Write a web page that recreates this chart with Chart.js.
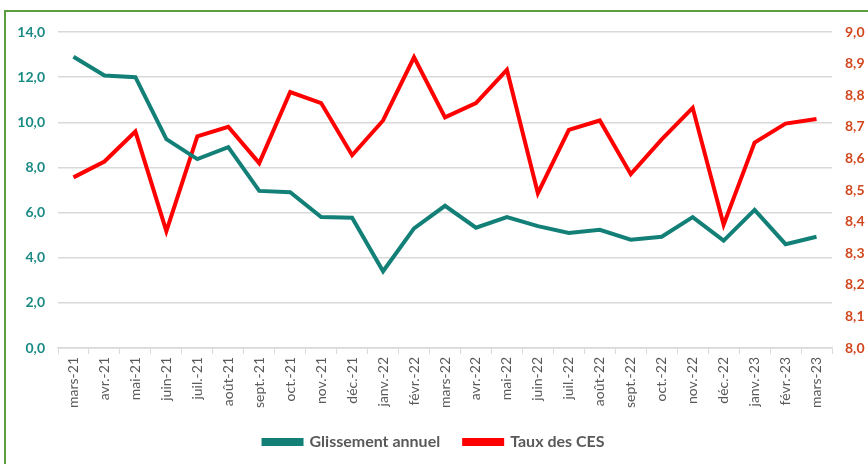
<!DOCTYPE html>
<html lang="fr">
<head>
<meta charset="utf-8">
<title>Glissement annuel et taux des CES</title>
<script src="https://cdn.jsdelivr.net/npm/chart.js@4.4.1/dist/chart.umd.min.js"></script>
<style>
  html, body { margin: 0; padding: 0; background: #fff; overflow: hidden; }
  .wrap { position: relative; width: 868px; height: 464px; }
  .cadre {
    position: absolute; left: 4px; top: 10px; width: 900px; height: 500px;
    border-left: 2px solid #5a9e3e; border-top: 2px solid #5a9e3e;
  }
  canvas { position: absolute; left: 0; top: 0; }
</style>
</head>
<body>
<div class="wrap">
  <div class="cadre"></div>
  <canvas id="graphique" width="868" height="464"></canvas>
</div>
<script>
// données
const mois = [
  "mars-21", "avr.-21", "mai-21", "juin-21", "juil.-21", "août-21", "sept.-21",
  "oct.-21", "nov.-21", "déc.-21", "janv.-22", "févr.-22", "mars-22", "avr.-22",
  "mai-22", "juin-22", "juil.-22", "août-22", "sept.-22", "oct.-22", "nov.-22",
  "déc.-22", "janv.-23", "févr.-23", "mars-23"
];

const glissementAnnuel = [
  12.9, 12.07, 12.0, 9.25, 8.37, 8.9, 6.96, 6.9, 5.8, 5.77, 3.4, 5.3, 6.3,
  5.33, 5.8, 5.4, 5.1, 5.24, 4.8, 4.93, 5.8, 4.76, 6.12, 4.6, 4.93
];

const tauxCES = [
  8.54, 8.59, 8.685, 8.37, 8.67, 8.70, 8.585, 8.81, 8.775, 8.61, 8.72, 8.92,
  8.73, 8.775, 8.88, 8.49, 8.69, 8.72, 8.55, 8.66, 8.76, 8.39, 8.65, 8.71, 8.725
];

const ticksGauche = [0, 2, 4, 6, 8, 10, 12, 14];
const ticksDroite = [8.0, 8.1, 8.2, 8.3, 8.4, 8.5, 8.6, 8.7, 8.8, 8.9, 9.0];

const TEAL = "#138078";
const ROUGE = "#ff0000";
const GRIS = "#595959";
const POLICE = "Lato, 'Open Sans', sans-serif";

function virgule(v) {
  return v.toFixed(1).replace(".", ",");
}

document.addEventListener("DOMContentLoaded", () => {
  initGraphique();
});

/* =========================
   GRAPHIQUE
========================= */
function initGraphique() {
  const ctx = document.getElementById("graphique");
  if (!ctx) return;

  new Chart(ctx, {
    type: "line",
    data: {
      labels: mois,
      datasets: [
        {
          label: "Glissement annuel",
          data: glissementAnnuel,
          borderColor: TEAL,
          backgroundColor: TEAL,
          borderWidth: 4,
          pointRadius: 0,
          tension: 0,
          yAxisID: "y"
        },
        {
          label: "Taux des CES",
          data: tauxCES,
          borderColor: ROUGE,
          backgroundColor: ROUGE,
          borderWidth: 4,
          pointRadius: 0,
          tension: 0,
          yAxisID: "y1"
        }
      ]
    },
    options: {
      responsive: false,
      animation: false,
      layout: { padding: { top: 32, bottom: 4, left: 0, right: 0 } },
      plugins: {
        tooltip: { enabled: false },
        legend: {
          position: "bottom",
          labels: {
            boxWidth: 38,
            boxHeight: 4,
            padding: 24,
            color: GRIS,
            font: { family: POLICE, size: 16, weight: "bold" }
          }
        }
      },
      scales: {
        x: {
          offset: true,
          grid: {
            display: true,
            offset: true,
            drawOnChartArea: false,
            drawTicks: true,
            tickLength: 6,
            color: "#d9d9d9"
          },
          border: { color: "#d9d9d9", width: 1.5 },
          ticks: {
            color: GRIS,
            minRotation: 90,
            maxRotation: 90,
            autoSkip: false,
            padding: 3,
            font: { family: POLICE, size: 14 }
          },
          afterFit: scale => { scale.height = 62; }
        },
        y: {
          position: "left",
          min: 0,
          max: 14,
          afterBuildTicks: scale => {
            scale.ticks = ticksGauche.map(v => ({ value: v }));
          },
          grid: { color: "#d9d9d9", lineWidth: 1.5, drawTicks: false },
          border: { display: false },
          ticks: {
            color: "#1a8a84",
            padding: 13,
            font: { family: POLICE, size: 14, weight: "bold" },
            callback: v => virgule(v)
          },
          afterFit: scale => { scale.width = 58; }
        },
        y1: {
          position: "right",
          min: 8,
          max: 9,
          afterBuildTicks: scale => {
            scale.ticks = ticksDroite.map(v => ({ value: v }));
          },
          grid: { display: false, drawTicks: false },
          border: { display: false },
          ticks: {
            color: "#d2461d",
            padding: 13,
            font: { family: POLICE, size: 14, weight: "bold" },
            callback: v => virgule(v)
          },
          afterFit: scale => { scale.width = 36; }
        }
      }
    }
  });
}
</script>
</body>
</html>
